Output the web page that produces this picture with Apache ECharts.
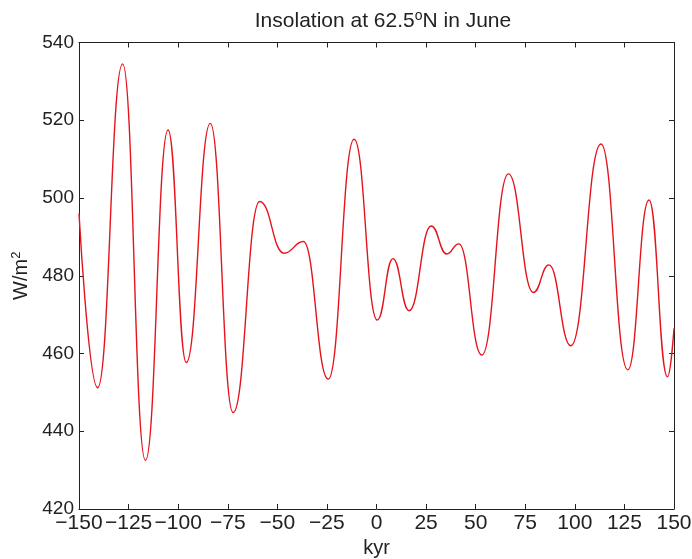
<!DOCTYPE html>
<html><head><meta charset="utf-8">
<script src="https://cdn.jsdelivr.net/npm/echarts@6/dist/echarts.min.js"></script>
<style>html,body{margin:0;padding:0;background:#fff}#c{width:692px;height:559px}</style>
</head><body><div id="c"></div>
<script>
// kyr positions of the curve's turning points (plus the two ends)
const kyr = [-150, -140.6, -128, -116.5, -105.1, -95.9, -83.8, -72.3, -58.9, -46.6, -36.9, -24.3, -11.3, 0.4, 8.3, 16.4, 27.6, 35.4, 41.5, 53.1, 66.5, 79.1, 86.9, 98.0, 113.2, 126.7, 137.4, 146.7, 150];
// insolation W/m^2 at those positions
const insolation = [496, 451.2, 534.5, 432.5, 517.5, 457.7, 519.2, 444.8, 499.1, 485.8, 488.8, 453.4, 515.1, 468.6, 484.4, 471, 492.8, 485.6, 488.2, 459.6, 506.2, 475.7, 482.8, 462, 513.9, 455.8, 499.5, 454, 466.5];
const xTicks = [-150, -125, -100, -75, -50, -25, 0, 25, 50, 75, 100, 125, 150];
const yTicks = [420, 440, 460, 480, 500, 520, 540];

const font = 'Liberation Sans, Arial, sans-serif';
const data = kyr.map((k, i) => [k, insolation[i]]);
const axisLine = {show: true, onZero: false, lineStyle: {color: '#222', width: 1}};
const tick = {show: true, inside: true, length: 5, lineStyle: {color: '#222'}};
const chart = echarts.init(document.getElementById('c'));
chart.setOption({
  animation: false,
  title: {
    text: 'Insolation at 62.5{sup|o}N in June',
    left: 378, top: 4, textAlign: 'center',
    textStyle: {
      fontFamily: font, fontSize: 21, fontWeight: 'normal', color: '#222',
      rich: {sup: {fontFamily: font, fontSize: 14, verticalAlign: 'top', padding: [0, 0, 10, 0], color: '#222'}}
    }
  },
  grid: {left: 79, right: 18, top: 42.5, bottom: 50, containLabel: false, outerBoundsMode: 'none'},
  xAxis: [{
    type: 'value', min: -150, max: 150, interval: 25, position: 'bottom',
    name: 'kyr', nameLocation: 'middle', nameGap: 28,
    nameTextStyle: {fontFamily: font, fontSize: 20, color: '#222'},
    axisLine, axisTick: tick, splitLine: {show: false},
    axisLabel: {fontFamily: font, fontSize: 21, color: '#222', margin: 4,
      formatter: v => xTicks.includes(v) ? String(v).replace('-', '\u2212') : ''}
  }, {
    type: 'value', min: -150, max: 150, interval: 25, position: 'top',
    axisLine, axisTick: tick, axisLabel: {show: false}, splitLine: {show: false}
  }],
  yAxis: [{
    type: 'value', min: 420, max: 540, interval: 20, position: 'left',
    name: 'W/m{sup|2}', nameLocation: 'middle', nameGap: 45,
    nameTextStyle: {fontFamily: font, fontSize: 20, color: '#222',
      rich: {sup: {fontFamily: font, fontSize: 13, verticalAlign: 'top', padding: [0, 0, 10, 0], color: '#222'}}},
    axisLine, axisTick: tick, splitLine: {show: false},
    axisLabel: {fontFamily: font, fontSize: 19, color: '#222', margin: 5,
      formatter: v => yTicks.includes(v) ? String(v) : ''}
  }, {
    type: 'value', min: 420, max: 540, interval: 20, position: 'right',
    axisLine, axisTick: tick, axisLabel: {show: false}, splitLine: {show: false}
  }],
  series: [{
    type: 'line', data, xAxisIndex: 0, yAxisIndex: 0,
    smooth: 0.47, smoothMonotone: 'x', showSymbol: false,
    lineStyle: {color: '#e5131b', width: 1.4}
  }]
});
</script></body></html>
